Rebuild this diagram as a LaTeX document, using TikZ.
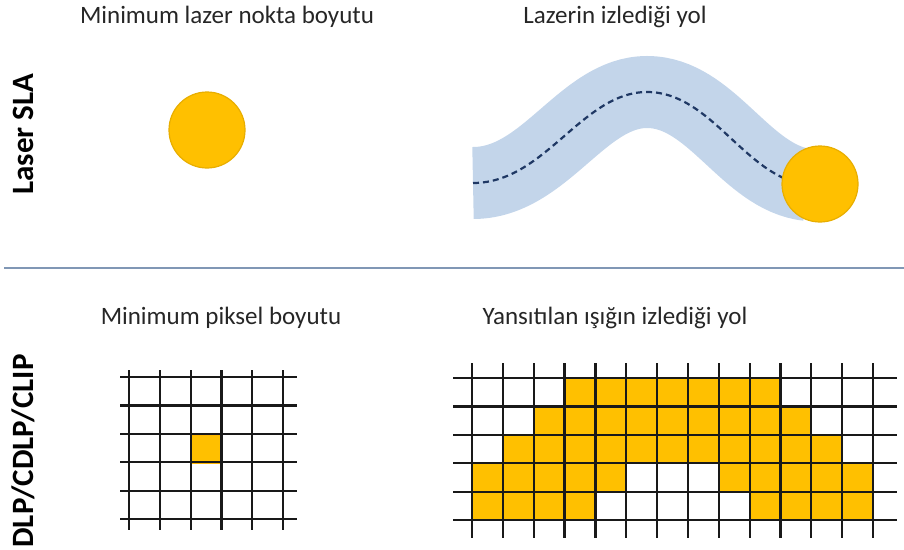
\documentclass[tikz,border=0pt]{standalone}
\usepackage{fontspec}
\setmainfont{Carlito}

\definecolor{spotYellow}{HTML}{FFC000}
\definecolor{spotEdge}{HTML}{E8AE00}
\definecolor{bandBlue}{HTML}{C3D5EA}
\definecolor{pathNavy}{HTML}{1F3864}
\definecolor{ruleBlue}{HTML}{8097B5}

\begin{document}
\begin{tikzpicture}[
    x=1pt, y=-1pt,
    % Text styles
    caption/.style={font=\fontsize{25}{27}\selectfont, text=black!85, inner sep=0pt},
    rowTitle/.style={font=\fontsize{31}{33}\selectfont\bfseries, rotate=90, inner sep=0pt},
    % Drawing styles
    spot/.style={circle, draw=spotEdge, fill=spotYellow, line width=1.2pt, minimum size=76pt, inner sep=0pt},
    band/.style={draw=bandBlue, line width=72pt, line cap=butt},
    trace/.style={draw=pathNavy, line width=2.2pt, dash pattern=on 6pt off 4pt},
    pixel/.style={fill=spotYellow, draw=spotYellow!85!orange, line width=0.6pt},
    gridline/.style={draw=black!90, line width=2.2pt},
    separator/.style={draw=ruleBlue, line width=2.2pt}
]
\useasboundingbox (0,0) rectangle (904,549);

% --- ROW TITLES ---
\node[rowTitle] (titleSLA) at (23,134) {Laser SLA};
\node[rowTitle] (titleDLP) at (23,451) {DLP/CDLP/CLIP};

% --- LASER SLA (top) ---
\node[caption] (capSpot) at (227,17) {Minimum lazer nokta boyutu};
\node[caption] (capTrace) at (615,17) {Lazerin izlediği yol};

\node[spot] (spotMin) at (207,130) {};

\draw[band] (473,183) .. controls (545,183) and (582,92) .. (647,92) .. controls (712,92) and (745,178) .. (808,185);
\draw[trace] (473,183) .. controls (545,183) and (582,92) .. (647,92) .. controls (712,92) and (745,178) .. (808,185);
\node[spot] (spotEnd) at (820,184) {};

% separator between the two rows
\coordinate (sepL) at (4,268);
\coordinate (sepR) at (904,268);
\draw[separator] (sepL) -- (sepR);

% --- DLP/CDLP/CLIP (bottom) ---
\node[caption] (capPixel) at (221,318) {Minimum piksel boyutu};
\node[caption] (capProj) at (615,318) {Yansıtılan ışığın izlediği yol};

% single pixel
\fill[pixel] (191,435) rectangle (222,463);
\foreach \i in {0,...,5} {
    \draw[gridline] (129+30.8*\i,370) -- (129+30.8*\i,530);
    \draw[gridline] (120,377+28.4*\i) -- (297,377+28.4*\i);
}

% projected pixels (cell units, origin at top-left cell corner)
\begin{scope}[shift={(472,378)}, x=30.85pt, y=-28.4pt]
    \fill[pixel] (3,0) -- (10,0) -- (10,1) -- (11,1) -- (11,2) -- (12,2) -- (12,3) -- (13,3)
        -- (13,5) -- (9,5) -- (9,4) -- (8,4) -- (8,3) -- (5,3) -- (5,4) -- (4,4) -- (4,5)
        -- (0,5) -- (0,3) -- (1,3) -- (1,2) -- (2,2) -- (2,1) -- (3,1) -- cycle;
\end{scope}
\foreach \i in {0,...,13}
    \draw[gridline] (472+30.85*\i,363) -- (472+30.85*\i,538);
\foreach \j in {0,...,5}
    \draw[gridline] (453,378+28.4*\j) -- (897,378+28.4*\j);

\end{tikzpicture}
\end{document}
